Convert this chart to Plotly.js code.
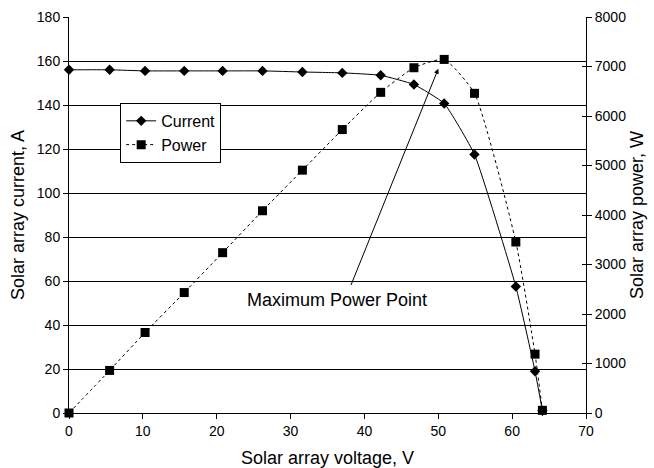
<!DOCTYPE html>
<html>
<head>
<meta charset="utf-8">
<script src="https://cdn.plot.ly/plotly-3.0.1.min.js"></script>
<style>html,body{margin:0;padding:0;background:#fff;}#chart{width:654px;height:468px;}</style>
</head>
<body>
<div id="chart"></div>
<script>
const voltage = [0, 5.5, 10.3, 15.6, 20.8, 26.2, 31.6, 37.0, 42.2, 46.7, 50.8, 54.9, 60.5, 63.1, 64.1];
const current = [156, 156, 155.5, 155.5, 155.5, 155.5, 155, 154.6, 153.5, 149.3, 140.7, 117.5, 57.5, 19, 1];
const power = [0, 860, 1626, 2433, 3239, 4086, 4906, 5726, 6478, 6975, 7143, 6458, 3454, 1189, 54];

const FONT = "Liberation Sans, Arial, sans-serif";

const traces = [
  {
    x: voltage, y: current, name: "Current", type: "scatter", mode: "lines+markers",
    line: {color: "#000", width: 1, shape: "spline", smoothing: 0.4},
    marker: {symbol: "diamond", size: 8, color: "#000"},
    cliponaxis: false
  },
  {
    x: voltage, y: power, name: "Power", type: "scatter", mode: "lines+markers", yaxis: "y2",
    line: {color: "#000", width: 1, dash: "dot", shape: "spline", smoothing: 0.5},
    marker: {symbol: "square", size: 9, color: "#000"},
    cliponaxis: false
  },
  {
    x: [0], y: [0], yaxis: "y3", type: "scatter", mode: "markers",
    marker: {opacity: 0}, showlegend: false, hoverinfo: "skip"
  }
];

const layout = {
  width: 654, height: 468,
  margin: {l: 69, r: 68, t: 17, b: 55},
  paper_bgcolor: "#fff", plot_bgcolor: "#fff",
  font: {family: FONT, size: 14, color: "#000"},
  showlegend: true,
  legend: {
    x: 0.099, y: 0.783, xanchor: "left", yanchor: "top",
    bordercolor: "#000", borderwidth: 1, bgcolor: "#fff",
    font: {family: FONT, size: 16, color: "#000"},
    tracegroupgap: 0, itemwidth: 30
  },
  xaxis: {
    range: [0, 70], dtick: 10, tick0: 0,
    showline: true, linecolor: "#000", linewidth: 1,
    ticks: "outside", ticklen: 5, tickcolor: "#000",
    showgrid: false, zeroline: false,
    tickfont: {family: FONT, size: 14},
    title: {text: "Solar array voltage, V", font: {family: FONT, size: 18}, standoff: 13}
  },
  yaxis: {
    range: [0, 180], dtick: 20, tick0: 0,
    showline: true, linecolor: "#000", linewidth: 1,
    ticks: "outside", ticklen: 5, tickcolor: "#000",
    showgrid: true, gridcolor: "#000", gridwidth: 1, zeroline: false,
    tickfont: {family: FONT, size: 14},
    title: {text: "Solar array current, A", font: {family: FONT, size: 18}, standoff: 7}
  },
  yaxis2: {
    range: [0, 8000], dtick: 1000, tick0: 0, overlaying: "y", side: "right",
    showline: true, linecolor: "#000", linewidth: 1,
    ticks: "outside", ticklen: 5, tickcolor: "#000",
    showgrid: false, zeroline: false,
    tickfont: {family: FONT, size: 14},
    title: {text: "Solar array power, W", font: {family: FONT, size: 18}, standoff: 5}
  },
  yaxis3: {
    range: [0, 8000], dtick: 1000, tick0: 0, overlaying: "y", side: "right",
    showline: false, ticks: "inside", ticklen: 4, tickcolor: "#000",
    showticklabels: false, showgrid: false, zeroline: false
  },
  annotations: [
    {
      x: 50, y: 156.5, xref: "x", yref: "y",
      ax: 38.1, ay: 57.5, axref: "x", ayref: "y",
      text: "", showarrow: true, arrowhead: 2, arrowsize: 1, arrowwidth: 1,
      arrowcolor: "#000", standoff: 0, startstandoff: 0
    },
    {
      x: 36.3, y: 51.4, xref: "x", yref: "y",
      text: "Maximum Power Point", showarrow: false,
      font: {family: FONT, size: 18, color: "#000"}, bgcolor: "rgba(0,0,0,0)"
    }
  ]
};

Plotly.newPlot("chart", traces, layout, {displayModeBar: false, staticPlot: true});
</script>
</body>
</html>
